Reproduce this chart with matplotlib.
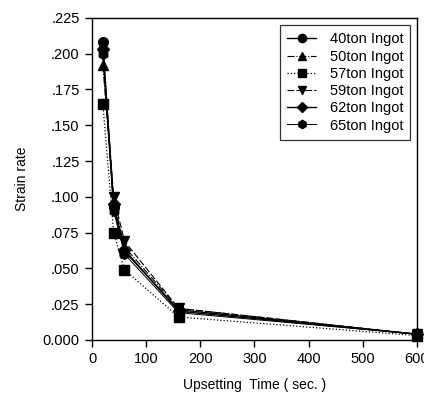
import matplotlib
matplotlib.use("Agg")
import matplotlib.pyplot as plt
from matplotlib.ticker import FuncFormatter

plt.rcParams["font.family"] = ["Liberation Sans", "DejaVu Sans"]

time_sec = [20, 40, 60, 160, 600]
labels = ["40ton Ingot", "50ton Ingot", "57ton Ingot", "59ton Ingot", "62ton Ingot", "65ton Ingot"]
rate_40 = [0.208, 0.093, 0.062, 0.021, 0.004]
rate_50 = [0.192, 0.097, 0.065, 0.022, 0.004]
rate_57 = [0.165, 0.075, 0.049, 0.016, 0.003]
rate_59 = [0.200, 0.100, 0.069, 0.022, 0.004]
rate_62 = [0.203, 0.095, 0.063, 0.020, 0.004]
rate_65 = [0.200, 0.090, 0.060, 0.019, 0.004]

series = [rate_40, rate_50, rate_57, rate_59, rate_62, rate_65]
markers = ["o", "^", "s", "v", "D", "h"]
styles = ["-", "-.", ":", (0, (6, 2)), "-", "-"]
widths = [1.0, 0.8, 0.9, 0.8, 1.0, 0.7]
sizes = [7, 6.5, 6.5, 7, 6, 7]

fig = plt.figure(figsize=(4.24, 3.98), dpi=100)
ax = fig.add_axes([0.217, 0.146, 0.766, 0.809])

for vals, lab, m, ls, lw, ms in zip(series, labels, markers, styles, widths, sizes):
    ax.plot(time_sec, vals, color="black", marker=m, linestyle=ls, linewidth=lw,
            markersize=ms, label=lab, clip_on=False)

ax.set_xlim(0, 600)
ax.set_ylim(0, 0.225)
ax.set_xticks([0, 100, 200, 300, 400, 500, 600])
ax.set_yticks([0, 0.025, 0.05, 0.075, 0.1, 0.125, 0.15, 0.175, 0.2, 0.225])
ax.yaxis.set_major_formatter(FuncFormatter(lambda v, p: "0.000" if v == 0 else ("%.3f" % v)[1:]))
ax.tick_params(direction="out", length=5, width=1, labelsize=10.5, pad=4)
for s in ax.spines.values():
    s.set_linewidth(1)

ax.set_xlabel("Upsetting  Time ( sec. )", fontsize=10, labelpad=8)
ax.set_ylabel("Strain rate", fontsize=10, labelpad=10)

leg = ax.legend(loc="upper right", bbox_to_anchor=(1.003, 1.0), fontsize=10.5, frameon=True,
                fancybox=False, edgecolor="black", handlelength=2.0, labelspacing=0.22,
                borderpad=0.5, handletextpad=0.9, markerscale=0.85)
leg.get_frame().set_linewidth(0.9)

fig.savefig("out.png", dpi=100)
